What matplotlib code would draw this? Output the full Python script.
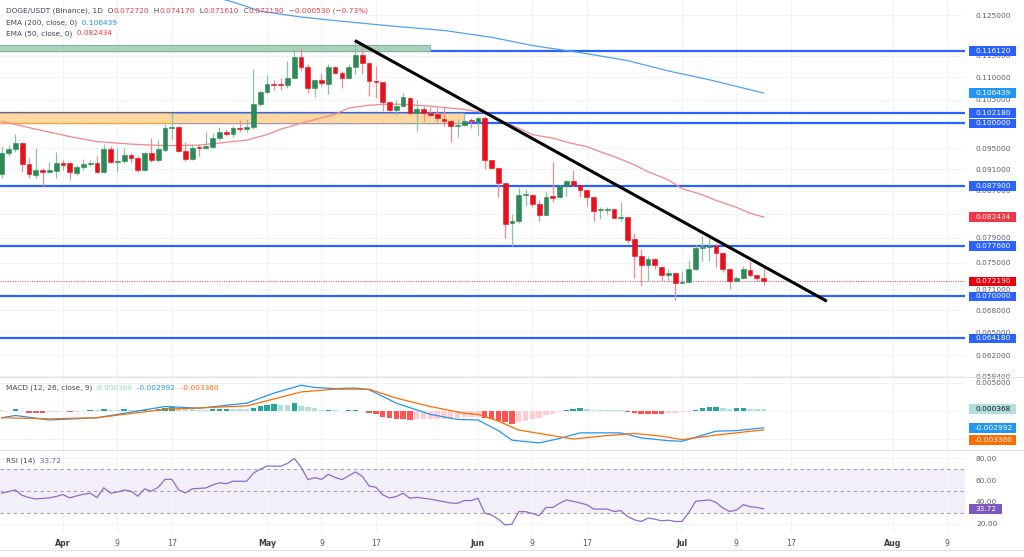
import numpy as np
import pandas as pd
import matplotlib
matplotlib.use('Agg')
import matplotlib.pyplot as plt
from matplotlib.patches import Rectangle
from matplotlib.ticker import NullLocator

# ---- data (daily candles from Mar 23) ----
start = pd.Timestamp('2024-03-23')

opens = [0.0900, 0.0940, 0.0949, 0.0961, 0.0919, 0.0899, 0.0909, 0.0904, 0.0906, 0.0921,
         0.0921, 0.0903, 0.0914, 0.0919, 0.0922, 0.0905, 0.0948, 0.0924, 0.0926, 0.0936,
         0.0931, 0.0908, 0.0940, 0.0927, 0.0946, 0.0990, 0.0992, 0.0945, 0.0929, 0.0953,
         0.0950, 0.0953, 0.0970, 0.0983, 0.0978, 0.0990, 0.0989, 0.0992, 0.1040, 0.1066,
         0.1085, 0.1085, 0.1082, 0.1099, 0.1147, 0.1124, 0.1076, 0.1093, 0.1085, 0.1122,
         0.1110, 0.1099, 0.1124, 0.1152, 0.1132, 0.1091, 0.1088, 0.1045, 0.1028, 0.1036,
         0.1054, 0.1022, 0.1029, 0.1022, 0.1020, 0.1009, 0.1004, 0.0994, 0.0996, 0.1006,
         0.1003, 0.1010, 0.0927, 0.0912, 0.0885, 0.0814, 0.0817, 0.0862, 0.0862, 0.0847,
         0.0828, 0.0860, 0.0859, 0.0878, 0.0888, 0.0880, 0.0871, 0.0859, 0.0836, 0.0836,
         0.0838, 0.0822, 0.0824, 0.0788, 0.0760, 0.0747, 0.0756, 0.0744, 0.0731, 0.0734,
         0.0720, 0.0721, 0.0741, 0.0774, 0.0775, 0.0777, 0.0766, 0.0741, 0.0723, 0.0727,
         0.0739, 0.0731, 0.07272]
highs = [0.0955, 0.0957, 0.0978, 0.0963, 0.0931, 0.0951, 0.0912, 0.0924, 0.0943, 0.0927,
         0.0924, 0.0918, 0.0929, 0.0927, 0.0934, 0.0958, 0.0955, 0.0950, 0.0951, 0.0940,
         0.0934, 0.0943, 0.0970, 0.0966, 0.0999, 0.1020, 0.0994, 0.0963, 0.0959, 0.0959,
         0.0983, 0.0980, 0.0992, 0.0989, 0.0994, 0.1006, 0.1008, 0.1118, 0.1070, 0.1105,
         0.1093, 0.1097, 0.1138, 0.1164, 0.1168, 0.1130, 0.1095, 0.1110, 0.1130, 0.1126,
         0.1113, 0.1130, 0.1185, 0.1174, 0.1134, 0.1126, 0.1088, 0.1047, 0.1050, 0.1065,
         0.1056, 0.1050, 0.1036, 0.1034, 0.1034, 0.1034, 0.1008, 0.1008, 0.1022, 0.1010,
         0.1013, 0.1015, 0.0927, 0.0914, 0.0885, 0.0830, 0.0875, 0.0874, 0.0864, 0.0853,
         0.0869, 0.0924, 0.0880, 0.0890, 0.0908, 0.0880, 0.0871, 0.0859, 0.0841, 0.0841,
         0.0838, 0.0850, 0.0825, 0.0797, 0.0772, 0.0760, 0.0758, 0.0745, 0.0741, 0.0735,
         0.0737, 0.0754, 0.0778, 0.0792, 0.0789, 0.0781, 0.0767, 0.0742, 0.0730, 0.0745,
         0.0753, 0.0732, 0.07417]
lows = [0.0893, 0.0934, 0.0943, 0.0905, 0.0894, 0.0893, 0.0879, 0.0902, 0.0893, 0.0908,
        0.0889, 0.0899, 0.0909, 0.0916, 0.0902, 0.0902, 0.0921, 0.0905, 0.0921, 0.0921,
        0.0905, 0.0906, 0.0924, 0.0924, 0.0943, 0.0966, 0.0942, 0.0925, 0.0927, 0.0934,
        0.0948, 0.0951, 0.0966, 0.0975, 0.0973, 0.0982, 0.0982, 0.0989, 0.1036, 0.1062,
        0.1071, 0.1071, 0.1076, 0.1098, 0.1113, 0.1065, 0.1056, 0.1080, 0.1063, 0.1107,
        0.1075, 0.1095, 0.1107, 0.1107, 0.1058, 0.1054, 0.1025, 0.1025, 0.1018, 0.1034,
        0.1020, 0.0985, 0.1004, 0.1015, 0.1003, 0.0994, 0.0963, 0.0973, 0.0994, 0.0990,
        0.0977, 0.0911, 0.0911, 0.0859, 0.0790, 0.0777, 0.0815, 0.0844, 0.0841, 0.0818,
        0.0828, 0.0850, 0.0857, 0.0861, 0.0877, 0.0859, 0.0844, 0.0818, 0.0821, 0.0830,
        0.0822, 0.0818, 0.0781, 0.0727, 0.0715, 0.0722, 0.0740, 0.0722, 0.0722, 0.0695,
        0.0719, 0.0720, 0.0739, 0.0753, 0.0753, 0.0744, 0.0736, 0.0710, 0.0722, 0.0726,
        0.0729, 0.0722, 0.07161]
closes = [0.0940, 0.0949, 0.0961, 0.0919, 0.0900, 0.0908, 0.0905, 0.0908, 0.0922, 0.0918,
          0.0904, 0.0914, 0.0919, 0.0922, 0.0905, 0.0948, 0.0924, 0.0926, 0.0936, 0.0931,
          0.0908, 0.0940, 0.0927, 0.0948, 0.0990, 0.0993, 0.0945, 0.0929, 0.0951, 0.0950,
          0.0955, 0.0970, 0.0983, 0.0978, 0.0990, 0.0989, 0.0992, 0.1040, 0.1066, 0.1084,
          0.1082, 0.1082, 0.1099, 0.1147, 0.1124, 0.1076, 0.1093, 0.1086, 0.1124, 0.1110,
          0.1099, 0.1124, 0.1152, 0.1132, 0.1091, 0.1088, 0.1045, 0.1027, 0.1036, 0.1056,
          0.1022, 0.1029, 0.1022, 0.1018, 0.1010, 0.1004, 0.0994, 0.0997, 0.1004, 0.1004,
          0.1010, 0.0927, 0.0912, 0.0885, 0.0812, 0.0817, 0.0862, 0.0864, 0.0847, 0.0828,
          0.0859, 0.0858, 0.0878, 0.0888, 0.0880, 0.0871, 0.0859, 0.0835, 0.0838, 0.0838,
          0.0823, 0.0824, 0.0787, 0.0760, 0.0747, 0.0756, 0.0746, 0.0731, 0.0734, 0.0720,
          0.0721, 0.0741, 0.0774, 0.0775, 0.0777, 0.0765, 0.0740, 0.0723, 0.0727, 0.0740,
          0.0731, 0.0727, 0.07219]

ema50_day = [0, 5, 10, 14, 19, 24, 29, 34, 36, 39, 41, 44, 49, 51, 54, 56, 59, 63, 68, 71,
             73, 76, 78, 81, 83, 86, 88, 90, 93, 95, 98, 100, 103, 105, 108, 110, 112]
ema50_val = [0.1004, 0.0988, 0.0973, 0.0963, 0.0958, 0.0955, 0.0956, 0.0963, 0.0966, 0.0977,
             0.0988, 0.1000, 0.1019, 0.1032, 0.1038, 0.1040, 0.1040, 0.1036, 0.1029, 0.1022,
             0.1008, 0.0990, 0.0977, 0.0970, 0.0962, 0.0953, 0.0943, 0.0934, 0.0918, 0.0905,
             0.0890, 0.0874, 0.0863, 0.0853, 0.0841, 0.0831, 0.082434]
ema200_day = [30, 34, 38, 44, 50, 58, 65, 72, 78, 85, 92, 98, 104, 112]
ema200_val = [0.1304, 0.1284, 0.1260, 0.1245, 0.1234, 0.1221, 0.1211, 0.1194, 0.1174, 0.1157,
              0.1138, 0.1114, 0.1094, 0.106439]

levels = [0.11612, 0.10218, 0.10000, 0.08790, 0.07766, 0.07000, 0.06418]
trend_day = [51.9, 121.3]
trend_price = [0.1186, 0.0693]
green_zone = (-0.5, 63.0, 0.11612, 0.1176)     # day from, day to, low, high
orange_zone_a = (-0.5, 25.0, 0.10000, 0.10218)
orange_zone_b = (25.0, 68.0, 0.10000, 0.10218)

macd_day = [0, 2, 7, 14, 24, 29, 36, 40, 42, 44, 46, 49, 52, 54, 56, 58, 61, 63, 67, 70,
            73, 75, 79, 82, 85, 91, 94, 98, 100, 105, 108, 112]
macd_val = [-0.0012, -0.0008, -0.0016, -0.0012, 0.0008, 0.0005, 0.0014, 0.0032, 0.0039, 0.0046,
            0.0042, 0.0040, 0.0041, 0.0038, 0.0026, 0.0014, 0.0002, -0.0006, -0.0015, -0.0016,
            -0.0035, -0.0052, -0.0057, -0.0049, -0.0039, -0.0039, -0.0048, -0.0053, -0.0054,
            -0.0036, -0.0035, -0.002992]
signal_day = [0, 7, 14, 24, 36, 44, 49, 54, 58, 63, 68, 70, 73, 76, 82, 84, 88, 93, 97, 100,
              105, 112]
signal_val = [-0.0012, -0.0014, -0.0012, 0.0003, 0.0009, 0.0034, 0.0039, 0.0039, 0.0023, 0.0008,
              -0.0004, -0.0006, -0.0018, -0.0034, -0.0046, -0.0050, -0.0045, -0.0040, -0.0045,
              -0.0051, -0.0043, -0.00336]
hist = [0.0001, 0.00008, 0.0003, 0.00005, -0.0003, -0.00032, -0.00034, -0.0002, -0.00012, -0.00008,
        -0.00015, -0.0001, 0.00005, 0.0002, 0.00015, 0.0003, 0.00025, 0.00022, 0.0003, 0.00025,
        0.0001, 0.00025, 0.0002, 0.00035, 0.0005, 0.0008, 0.00045, 0.00035, 0.0003, 0.00025,
        0.0002, 0.00033, 0.00036, 0.0004, 0.00037, 0.00035, 0.00034, 0.0006, 0.0009, 0.0011,
        0.0012, 0.00115, 0.0011, 0.0014, 0.0009, 0.0007, 0.00045, 0.0002, 0.00025, 0.0001,
        0.00005, 0.0001, 0.0002, 0.00005, -0.0004, -0.0006, -0.001, -0.0013, -0.0014, -0.00145,
        -0.0016, -0.0015, -0.0015, -0.00148, -0.00146, -0.00144, -0.0014, -0.0012, -0.0011, -0.00108,
        -0.00105, -0.0013, -0.0015, -0.0018, -0.002, -0.0023, -0.002, -0.0017, -0.0014, -0.0012,
        -0.0008, -0.0006, -0.0002, 0.00025, 0.0004, 0.00045, 0.0003, 0.00026, 0.00024, 0.0002,
        0.00018, 0.0001, -0.0001, -0.0004, -0.00045, -0.00046, -0.00048, -0.0005, -0.0004, -0.0003,
        -0.0002, -0.0001, 0.00025, 0.00045, 0.0007, 0.0008, 0.0005, 0.0004, 0.00045, 0.0005,
        0.00042, 0.0004, 0.000368]

rsi = [48, 49.5, 51, 46, 44, 42.7, 43.2, 43.7, 45, 46.7,
       43.7, 45.5, 47, 48, 44, 53, 48, 49, 51, 49.8,
       45.2, 52, 49.8, 53.5, 60.7, 60.7, 51, 48.3, 52, 52.4,
       52.8, 55.5, 57.6, 56.7, 59, 59, 59, 66.5, 70, 73,
       72.8, 72.8, 75.3, 80, 72, 60.4, 62.3, 60.7, 65.3, 62.5,
       60.4, 64, 67.5, 63.5, 54.5, 53.5, 46.5, 43.7, 44.9, 48,
       43.3, 44.2, 43.3, 42.5, 41.3, 40.2, 38.9, 38.7, 41.2, 41.2,
       43.3, 29.7, 27.9, 24.1, 18.8, 19.5, 31, 31, 29.4, 27.2,
       34.9, 34.9, 38.7, 41.8, 40.5, 39, 37.4, 33.4, 33.4, 33.4,
       31.2, 31.9, 26.6, 23.5, 22, 25.1, 24.1, 22.6, 23.2, 22,
       22, 30.3, 40.5, 41.2, 41.8, 39.6, 34.4, 31.2, 32.5, 37.4,
       35.6, 34.9, 33.72]

price_ticks = [0.125, 0.115, 0.110, 0.105, 0.100, 0.095, 0.091, 0.087, 0.083, 0.079,
               0.075, 0.071, 0.068, 0.065, 0.062, 0.0594]
hidden_ticks = [0.100, 0.083]   # fully covered by price tags
tick_dates = ['2024-04-01', '2024-04-09', '2024-04-17', '2024-05-01', '2024-05-09', '2024-05-17',
              '2024-06-01', '2024-06-09', '2024-06-17', '2024-07-01', '2024-07-09', '2024-07-17',
              '2024-08-01', '2024-08-09']
tick_labels = ['Apr', '9', '17', 'May', '9', '17', 'Jun', '9', '17', 'Jul', '9', '17', 'Aug', '9']

# ---- figure ----
W, H = 1024, 557
FS = 5.35
GRID = '#f0f3fa'
TXT = '#434651'
AXT = '#5d606b'
plt.rcParams['font.family'] = ['DejaVu Sans']

fig = plt.figure(figsize=(W / 100, H / 100), dpi=100)
fig.patch.set_facecolor('white')
pw = 965 / W
ax1 = fig.add_axes([0, 1 - 377 / H, pw, 377 / H])
ax2 = fig.add_axes([0, 1 - 450 / H, pw, 73 / H], sharex=ax1)
ax3 = fig.add_axes([0, 1 - 533 / H, pw, 83 / H], sharex=ax1)

days = np.arange(len(opens))
o = np.array(opens); h = np.array(highs); l = np.array(lows); c = np.array(closes)
tick_pos = [(pd.Timestamp(d) - start).days for d in tick_dates]

for ax in (ax1, ax2, ax3):
    for s in ax.spines.values():
        s.set_visible(False)
    ax.set_facecolor('none')
    ax.set_xticks(tick_pos)
    ax.grid(axis='x', color=GRID, lw=0.8)
    ax.tick_params(length=0)
    ax.yaxis.tick_right()
    ax.tick_params(axis='y', labelsize=FS, labelcolor=AXT, pad=7.9)
ax1.set_xlim(-0.26, 141.6)

# price pane
ax1.set_yscale('log')
ax1.set_ylim(0.05928, 0.12894)
ax1.yaxis.set_minor_locator(NullLocator())
ax1.set_yticks(price_ticks)
ax1.set_yticklabels(['' if v in hidden_ticks else f'{v:.6f}' for v in price_ticks])
ax1.grid(axis='y', color=GRID, lw=0.8)
ax1.tick_params(axis='x', labelbottom=False)

for v in levels:
    ax1.axhline(v, color='#2962ff', lw=1.6, zorder=2)

for (d0, d1, p0, p1), fc, ec in [(green_zone, '#a5d6b4', '#8fa8b8'),
                                  (orange_zone_a, '#ffd7a0', '#ffa726'),
                                  (orange_zone_b, '#ffd7a0', '#a0a0a0')]:
    ax1.add_patch(Rectangle((d0, p0), d1 - d0, p1 - p0, fc=fc, ec=ec, lw=0.8, zorder=2.5))

ax1.axhline(closes[-1], color='#f23645', lw=0.7, ls=(0, (1, 1.5)), zorder=3)
ax1.plot(ema200_day, ema200_val, color='#4fa3f0', lw=0.9, zorder=3)
ax1.plot(ema50_day, ema50_val, color='#f5868b', lw=0.9, zorder=3)

up = c >= o
body_col = np.where(up, '#2b8a55', '#e8101c')
wick_col = np.where(up, '#8cc4a2', '#f28b8f')
ax1.vlines(days, l, h, colors=wick_col, lw=0.9, zorder=4)
ax1.bar(days, np.abs(c - o), bottom=np.minimum(o, c), width=0.7, color=body_col,
        edgecolor=body_col, lw=0.4, zorder=5)

ax1.plot(trend_day, trend_price, color='black', lw=2.2, zorder=6, solid_capstyle='butt')

# macd pane
ax2.set_ylim(-0.00696, 0.00607)
ax2.set_yticks([0.005, 0, -0.005])
ax2.set_yticklabels(['0.005000', '', ''])
ax2.grid(axis='y', color=GRID, lw=0.8)
ax2.tick_params(axis='x', labelbottom=False)
hcol = []
for i, v in enumerate(hist):
    prev = hist[i - 1] if i > 0 else v
    if v >= 0:
        hcol.append('#26a69a' if v > prev else '#b2dfdb')
    else:
        hcol.append('#ff5252' if v < prev else '#ffcdd2')
ax2.bar(days, hist, width=0.8, color=hcol, zorder=3)
ax2.plot(macd_day, macd_val, color='#2196f3', lw=0.9, zorder=4)
ax2.plot(signal_day, signal_val, color='#ff6d00', lw=0.9, zorder=4)

# rsi pane
ax3.set_ylim(11.4, 87.7)
ax3.set_yticks([80, 60, 40, 20])
ax3.set_yticklabels(['80.00', '60.00', '40.00', '20.00'])
ax3.grid(axis='y', color=GRID, lw=0.8)
ax3.axhspan(30, 70, color='#7e57c2', alpha=0.09, lw=0, zorder=1)
for v in (70, 50, 30):
    ax3.axhline(v, color='#a3a6af', lw=0.8, ls=(0, (3, 3)), zorder=2)
ax3.plot(days, rsi, color='#8e6bd1', lw=0.9, zorder=3)
ax3.set_xticklabels(tick_labels)
ax3.tick_params(axis='x', labelsize=FS + 0.3, labelcolor=AXT, pad=4)
for t, s in zip(ax3.get_xticklabels(), tick_labels):
    if not s.isdigit():
        t.set_fontweight('bold')
        t.set_color('#3b3e47')

# pane separators
for yy in (377, 450, 550):
    fig.add_artist(plt.Line2D([0, 1], [1 - yy / H, 1 - yy / H], color='#e0e3eb', lw=0.8))


def tag(ax, value, text, fc, tc='white', dy=0, w=47):
    ypix = ax.transData.transform((0, value))[1] + dy
    fig.add_artist(Rectangle((969, ypix - 4.8), w, 9.6, transform=None, fc=fc, ec='none', zorder=10))
    fig.text(975 / W, ypix / H, text, color=tc, fontsize=FS, va='center', ha='left', zorder=11)


for v in levels:
    tag(ax1, v, f'{v:.6f}', '#2962ff')
tag(ax1, ema200_val[-1], f'{ema200_val[-1]:.6f}', '#2196f3')
tag(ax1, ema50_val[-1], f'{ema50_val[-1]:.6f}', '#f23645')
tag(ax1, closes[-1], f'{closes[-1]:.6f}', '#e8000c')
tag(ax2, hist[-1], f'{hist[-1]:.6f}', '#b2dfdb', tc='#131722')
tag(ax2, macd_val[-1], f'{macd_val[-1]:.6f}', '#2196f3')
tag(ax2, signal_val[-1], f'{signal_val[-1]:.6f}', '#ff6d00', dy=-10)
tag(ax3, rsi[-1], f'{rsi[-1]:.2f}', '#7e57c2', w=33)

renderer = fig.canvas.get_renderer()


def rich(x, y, parts):
    for s, col in parts:
        t = fig.text(x / W, 1 - y / H, s, color=col, fontsize=FS, va='center', ha='left')
        x += t.get_window_extent(renderer).width


RED = '#f23645'
rich(6, 10.7, [('DOGE/USDT (Binance), 1D', TXT), ('  O', TXT), (f'{opens[-1]:.6f}', RED),
               ('  H', TXT), (f'{highs[-1]:.6f}', RED), ('  L', TXT), (f'{lows[-1]:.6f}', RED),
               ('  C', TXT), (f'{closes[-1]:.6f}', RED), ('  \u22120.000530 (\u22120.73%)', RED)])
rich(6, 22.7, [('EMA (200, close, 0)', TXT), (f'  {ema200_val[-1]:.6f}', '#2196f3')])
rich(6, 33.3, [('EMA (50, close, 0)', TXT), (f'  {ema50_val[-1]:.6f}', RED)])
rich(6, 388, [('MACD (12, 26, close, 9)', TXT), (f'  {hist[-1]:.6f}', '#9fd8cc'),
              (f'  {macd_val[-1]:.6f}', '#2196f3'),
              (f'  {signal_val[-1]:.6f}', '#ff6d00')])
rich(6, 461, [('RSI (14)', TXT), (f'  {rsi[-1]:.2f}', '#7e57c2')])

fig.savefig('out.png', dpi=100, facecolor='white')
